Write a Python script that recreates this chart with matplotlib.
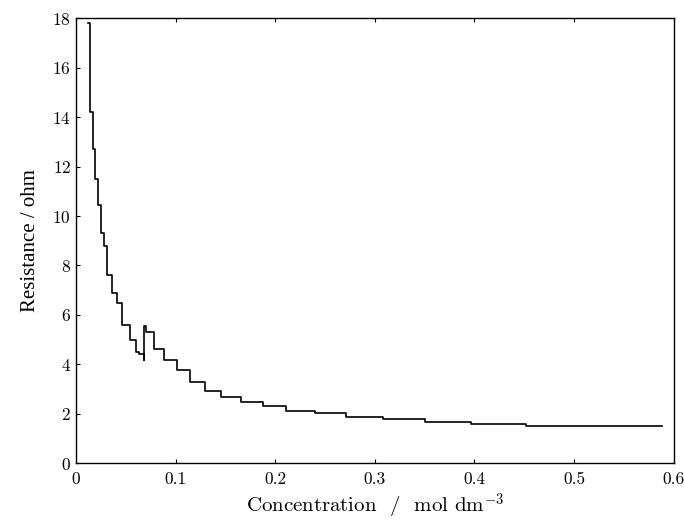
import matplotlib
matplotlib.use("Agg")
from matplotlib import pyplot as plt

plt.rcParams['font.family'] = 'serif'
plt.rcParams['font.serif'] = ['cmr10', 'Liberation Serif', 'DejaVu Serif']
plt.rcParams['mathtext.fontset'] = 'cm'
plt.rcParams['axes.formatter.use_mathtext'] = True

# Staircase readout: concentration where each drop happens, level after the drop
concentration = [0.0125, 0.0140, 0.0174, 0.0190, 0.0224, 0.0248, 0.0281, 0.0314,
                 0.0358, 0.0408, 0.0464, 0.0542, 0.0599, 0.0632, 0.0685, 0.0685,
                 0.0702, 0.0782, 0.0883, 0.1016, 0.1143, 0.1294, 0.1461, 0.1652,
                 0.1873, 0.2113, 0.2397, 0.2715, 0.3082, 0.3500, 0.3969, 0.4520,
                 0.5880]
resistance = [17.8, 14.2, 12.7, 11.5, 10.45, 9.3, 8.77, 7.6,
              6.87, 6.47, 5.59, 5.0, 4.51, 4.41, 4.17, 5.55,
              5.32, 4.6, 4.17, 3.77, 3.3, 2.93, 2.68, 2.46,
              2.31, 2.12, 2.01, 1.87, 1.78, 1.67, 1.6, 1.5,
              1.5]

x_ticks = [0, 0.1, 0.2, 0.3, 0.4, 0.5, 0.6]
x_labels = ['0', '0.1', '0.2', '0.3', '0.4', '0.5', '0.6']
y_ticks = [0, 2, 4, 6, 8, 10, 12, 14, 16, 18]

fig = plt.figure(figsize=(6.84, 5.25), dpi=100)
ax = fig.add_axes([0.111, 0.118, 0.874, 0.847])

ax.plot(concentration, resistance, drawstyle='steps-post', color='black', linewidth=1.2)

ax.set_xlim(0, 0.6)
ax.set_ylim(0, 18)
ax.set_xticks(x_ticks)
ax.set_xticklabels(x_labels)
ax.set_yticks(y_ticks)
ax.tick_params(direction='in', length=3, width=0.8, labelsize=12.5, top=True, right=False)
ax.tick_params(axis='x', pad=6)

ax.set_xlabel('Concentration  /  mol dm$^{-3}$', fontsize=15, labelpad=4)
ax.set_ylabel('Resistance / ohm', fontsize=15, family='Liberation Serif', labelpad=9)

for spine in ax.spines.values():
    spine.set_linewidth(1.0)

fig.savefig('out.png', dpi=100)
